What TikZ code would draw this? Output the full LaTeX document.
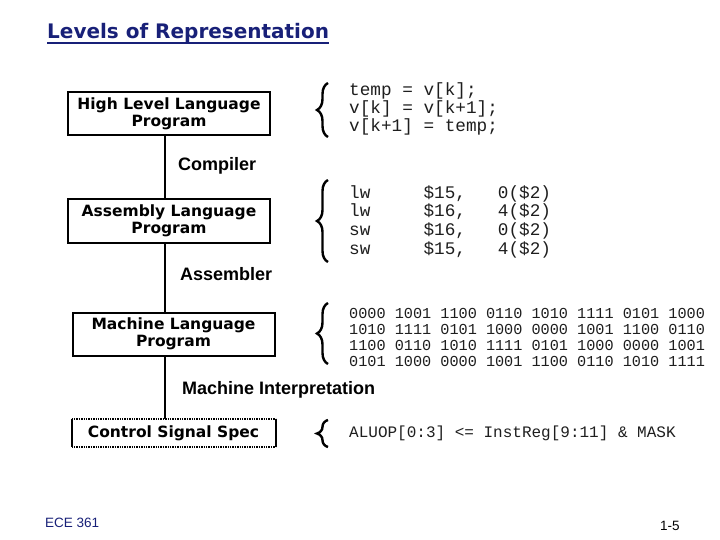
\documentclass[tikz,border=0pt]{standalone}
\usepackage{fontspec}
\setmainfont{Liberation Sans}
\setmonofont{Liberation Mono}
\newfontfamily\titlefont{DejaVu Sans}
\newfontfamily\boxfont{DejaVu Sans}
\usetikzlibrary{decorations.pathreplacing}

\definecolor{navy}{RGB}{24,32,120}
\definecolor{codegray}{RGB}{30,30,30}

\tikzset{
  level/.style={draw, line width=2pt, minimum width=202pt, minimum height=43pt, inner sep=0pt, align=center, font=\boxfont\bfseries\fontsize{15.5}{17}\selectfont},
  stage/.style={anchor=west, inner sep=0pt, font=\bfseries\fontsize{18}{20}\selectfont},
  code/.style={anchor=north west, inner sep=0pt, align=left, text=codegray},
  curly/.style={decorate, decoration={brace, amplitude=11pt}, line width=2.4pt},
}

\begin{document}
\begin{tikzpicture}[x=1pt,y=-1pt]
	\useasboundingbox (0,0) rectangle (720,540);

	\node[anchor=base west, inner sep=0pt, text=navy, font=\titlefont\bfseries\fontsize{20}{24}\selectfont] (title) at (47,39) {Levels of Representation};
	\draw[navy, line width=1.5pt] ([yshift=-4pt]title.base west) -- ([yshift=-4pt]title.base east);

	\node[level] (hll) at (169,113.5) {High Level Language\\Program};
	\node[level] (asm) at (169,221) {Assembly Language\\Program};
	\node[level] (mach) at (173.5,334) {Machine Language\\Program};
	\node[level, draw=none, minimum height=26pt] (ctl) at (173.5,433) {Control Signal Spec};
	\draw[densely dotted, line width=1.4pt] (ctl.north west) -- (ctl.north east);
	\draw[densely dotted, line width=1.4pt] (ctl.south west) -- (ctl.south east);
	\draw[line width=2pt] (ctl.north west) -- (ctl.south west);
	\draw[line width=2pt] (ctl.north east) -- (ctl.south east);

	\coordinate (spine) at (165,0);
	\draw[line width=2pt] (hll.south -| spine) -- (asm.north -| spine);
	\draw[line width=2pt] (asm.south -| spine) -- (mach.north -| spine);
	\draw[line width=2pt] (mach.south -| spine) -- (ctl.north -| spine);

	\node[stage] (comp) at (178,166) {Compiler};
	\node[stage] (assm) at (180,274) {Assembler};
	\node[stage] (interp) at (182,390) {Machine Interpretation};

	\draw[curly] (328,137) -- (328,83);
	\draw[curly] (328,262) -- (328,180);
	\draw[curly] (328,364) -- (328,303);
	\draw[curly] (328,447) -- (328,420);

	\node[code, font=\ttfamily\fontsize{17.7}{18}\selectfont] (hlcode) at (349,82) {temp = v[k];\\v[k] = v[k+1];\\v[k+1] = temp;};
	\node[code, font=\ttfamily\fontsize{17.7}{18.7}\selectfont] (asmcode) at (349,185) {lw\ \ \ \ \ \$15,\ \ \ 0(\$2)\\lw\ \ \ \ \ \$16,\ \ \ 4(\$2)\\sw\ \ \ \ \ \$16,\ \ \ 0(\$2)\\sw\ \ \ \ \ \$15,\ \ \ 4(\$2)};
	\node[code, font=\ttfamily\fontsize{15.2}{16}\selectfont] (machcode) at (349,308) {0000 1001 1100 0110 1010 1111 0101 1000\\1010 1111 0101 1000 0000 1001 1100 0110\\1100 0110 1010 1111 0101 1000 0000 1001\\0101 1000 0000 1001 1100 0110 1010 1111};
	\node[code, anchor=west, font=\ttfamily\fontsize{16}{18}\selectfont] (ctlcode) at (349,433) {ALUOP[0:3] <= InstReg[9:11] \& MASK};

	\node[anchor=west, inner sep=0pt, text=navy, font=\fontsize{13.5}{15}\selectfont] (course) at (45,523) {ECE 361};
	\node[anchor=west, inner sep=0pt, font=\fontsize{13.5}{15}\selectfont] (page) at (660,526) {1-5};
\end{tikzpicture}
\end{document}
